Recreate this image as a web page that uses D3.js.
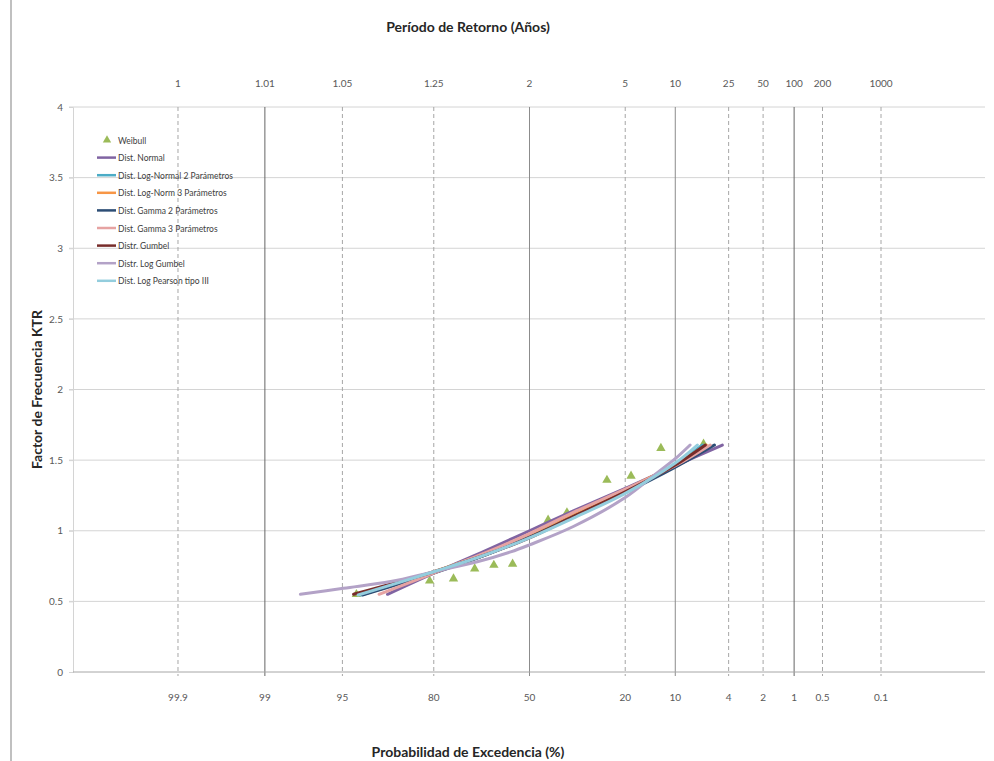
<!DOCTYPE html>
<html>
<head>
<meta charset="utf-8">
<script src="https://cdn.jsdelivr.net/npm/d3@7"></script>
<style>
  body { margin: 0; background: #fff; }
  text { font-family: Lato, "Open Sans", sans-serif; }
</style>
</head>
<body>
<script>
// Probability ticks (exceedance %) and matching return periods
var probTicks = [99.9, 99, 95, 80, 50, 20, 10, 4, 2, 1, 0.5, 0.1];
var probLabels = ["99.9", "99", "95", "80", "50", "20", "10", "4", "2", "1", "0.5", "0.1"];
var returnLabels = ["1", "1.01", "1.05", "1.25", "2", "5", "10", "25", "50", "100", "200", "1000"];
var solidTicks = [99, 50, 10, 1];

// Weibull plotting positions
var weibullP = [93.6, 81.0, 74.8, 68.5, 62.3, 55.9, 43.5, 37.1, 24.8, 18.6, 12.4, 6.3];
var weibullK = [0.55, 0.645, 0.66, 0.731, 0.757, 0.765, 1.076, 1.128, 1.359, 1.388, 1.584, 1.614];

// fitted distributions
var normalP = [89.4, 80, 65, 50, 35, 20, 10, 4.5];
var normalK = [0.55, 0.70, 0.86, 1.0, 1.14, 1.30, 1.46, 1.607];
var logNormal2P = [93.1, 80, 65, 50, 35, 20, 10, 6.4];
var logNormal2K = [0.545, 0.705, 0.83, 0.96, 1.11, 1.285, 1.47, 1.607];
var logNormal3P = [92.8, 80, 65, 50, 35, 20, 10, 6.0];
var logNormal3K = [0.55, 0.71, 0.84, 0.97, 1.12, 1.29, 1.47, 1.607];
var gamma2P = [92.9, 80, 65, 50, 35, 20, 10, 5.2];
var gamma2K = [0.545, 0.70, 0.83, 0.955, 1.10, 1.27, 1.45, 1.607];
var gamma3P = [90.7, 80, 65, 50, 35, 20, 10, 5.6];
var gamma3K = [0.55, 0.70, 0.845, 0.98, 1.13, 1.295, 1.46, 1.607];
var gumbelP = [93.9, 80, 65, 50, 35, 20, 10, 6.1];
var gumbelK = [0.55, 0.71, 0.83, 0.95, 1.10, 1.275, 1.465, 1.607];
var logGumbelP = [97.8, 94.9, 88.9, 80, 67.7, 56.6, 50, 35, 20, 13.1, 10, 7.9];
var logGumbelK = [0.55, 0.593, 0.64, 0.71, 0.78, 0.85, 0.9, 1.03, 1.235, 1.41, 1.51, 1.607];
var logPearsonP = [93.4, 80, 65, 50, 35, 20, 10, 7.0];
var logPearsonK = [0.545, 0.71, 0.83, 0.95, 1.09, 1.265, 1.48, 1.607];

var seriesNames = ["Dist. Normal", "Dist. Log-Normal 2 Parámetros", "Dist. Log-Norm 3 Parámetros",
  "Dist. Gamma 2 Parámetros", "Dist. Gamma 3 Parámetros", "Distr. Gumbel", "Distr. Log Gumbel",
  "Dist. Log Pearson tipo III"];
var seriesColors = ["#8064a2", "#4bacc6", "#f79646", "#2c4d75", "#e6a3a2", "#772c2a", "#b3a2c7", "#93cddd"];
var seriesP = [normalP, logNormal2P, logNormal3P, gamma2P, gamma3P, gumbelP, logGumbelP, logPearsonP];
var seriesK = [normalK, logNormal2K, logNormal3K, gamma2K, gamma3K, gumbelK, logGumbelK, logPearsonK];

var svgWidth = 994;
var svgHeight = 761;
var margin = { top: 107, right: 9, bottom: 89, left: 73 };
var chartWidth = svgWidth - margin.left - margin.right;
var chartHeight = svgHeight - margin.top - margin.bottom;

var svg = d3.select("body").append("svg")
  .attr("width", svgWidth)
  .attr("height", svgHeight);

// inverse normal cdf (Acklam)
function probit(p) {
  var a = [-39.69683028665376, 220.9460984245205, -275.9285104469687, 138.3577518672690, -30.66479806614716, 2.506628277459239];
  var b = [-54.47609879822406, 161.5858368580409, -155.6989798598866, 66.80131188771972, -13.28068155288572];
  var c = [-0.007784894002430293, -0.3223964580411365, -2.400758277161838, -2.549732539343734, 4.374664141464968, 2.938163982698783];
  var d = [0.007784695709041462, 0.3224671290700398, 2.445134137142996, 3.754408661907416];
  var q, r;
  if (p < 0.02425) {
    q = Math.sqrt(-2 * Math.log(p));
    return (((((c[0]*q+c[1])*q+c[2])*q+c[3])*q+c[4])*q+c[5]) / ((((d[0]*q+d[1])*q+d[2])*q+d[3])*q+1);
  } else if (p > 1 - 0.02425) {
    q = Math.sqrt(-2 * Math.log(1 - p));
    return -(((((c[0]*q+c[1])*q+c[2])*q+c[3])*q+c[4])*q+c[5]) / ((((d[0]*q+d[1])*q+d[2])*q+d[3])*q+1);
  }
  q = p - 0.5; r = q * q;
  return (((((a[0]*r+a[1])*r+a[2])*r+a[3])*r+a[4])*r+a[5])*q / (((((b[0]*r+b[1])*r+b[2])*r+b[3])*r+b[4])*r+1);
}

// normal probability scale: 99.9% at x=178, 0.1% at x=881
var zScale = d3.scaleLinear().domain([-3.0902, 3.0902]).range([178 - margin.left, 881 - margin.left]);
var xP = function(pct) { return zScale(probit(1 - pct / 100)); };
var yScale = d3.scaleLinear().domain([0, 4]).range([chartHeight, 0]);

// outer frame edge on the left
svg.append("line")
  .attr("x1", 11).attr("x2", 11).attr("y1", 0).attr("y2", svgHeight)
  .attr("stroke", "#c0c0c0").attr("stroke-width", 2);

var chartGroup = svg.append("g")
  .attr("transform", `translate(${margin.left}, ${margin.top})`);

// horizontal gridlines
chartGroup.append("g")
  .selectAll("line")
  .data(yScale.ticks(8).filter(function(d) { return d > 0; }))
  .join("line")
  .attr("x1", -4).attr("x2", chartWidth)
  .attr("y1", d => yScale(d)).attr("y2", d => yScale(d))
  .attr("stroke", "#d4d4d4");

// left axis
var leftAxis = d3.axisLeft(yScale).ticks(8).tickSize(4).tickPadding(6)
  .tickFormat(d3.format("~g"));
var yAxisG = chartGroup.append("g").call(leftAxis);
yAxisG.select(".domain").attr("stroke", "#d4d4d4");
yAxisG.selectAll(".tick line").attr("stroke", "#d4d4d4");
yAxisG.selectAll("text").attr("fill", "#595959").style("font-size", "10px");

// vertical probability gridlines
chartGroup.append("g")
  .selectAll("line")
  .data(probTicks)
  .join("line")
  .attr("x1", d => xP(d)).attr("x2", d => xP(d))
  .attr("y1", 0).attr("y2", chartHeight + 4)
  .attr("stroke", d => solidTicks.indexOf(d) >= 0 ? (d === 50 || d === 10 ? "#8c8c8c" : "#666") : "#a6a6a6")
  .attr("stroke-width", 1)
  .attr("stroke-dasharray", d => solidTicks.indexOf(d) >= 0 ? null : "4,3");

// bottom axis line
chartGroup.append("line")
  .attr("x1", 0).attr("x2", chartWidth)
  .attr("y1", chartHeight).attr("y2", chartHeight)
  .attr("stroke", "#a6a6a6");

// bottom tick labels (exceedance probability)
chartGroup.append("g")
  .selectAll("text")
  .data(probTicks)
  .join("text")
  .attr("x", (d, i) => xP(d))
  .attr("y", chartHeight + 29)
  .attr("text-anchor", "middle")
  .attr("fill", "#595959")
  .style("font-size", "10px")
  .text((d, i) => probLabels[i]);

// top tick labels (return period)
chartGroup.append("g")
  .selectAll("text")
  .data(probTicks)
  .join("text")
  .attr("x", d => xP(d))
  .attr("y", -20)
  .attr("text-anchor", "middle")
  .attr("fill", "#595959")
  .style("font-size", "10px")
  .text((d, i) => returnLabels[i]);

// Weibull points
chartGroup.append("g")
  .selectAll("path")
  .data(weibullP)
  .join("path")
  .attr("d", d3.symbol(d3.symbolTriangle, 38))
  .attr("transform", (d, i) => `translate(${xP(d)}, ${yScale(weibullK[i])})`)
  .attr("fill", "#9bbb59");

// distribution curves
var line = d3.line()
  .x(d => xP(d[0]))
  .y(d => yScale(d[1]))
  .curve(d3.curveCatmullRom);

for (var i = 0; i < seriesP.length; i++) {
  var pts = seriesP[i].map(function(p, j) { return [p, seriesK[i][j]]; });
  chartGroup.append("path")
    .attr("d", line(pts))
    .attr("fill", "none")
    .attr("stroke", seriesColors[i])
    .attr("stroke-width", 3)
    .attr("stroke-linecap", "round");
}

// legend
var legend = svg.append("g").attr("transform", "translate(97, 140)");
legend.append("path")
  .attr("d", d3.symbol(d3.symbolTriangle, 30))
  .attr("transform", "translate(10, 0)")
  .attr("fill", "#9bbb59");
legend.append("text")
  .attr("x", 21).attr("y", 3.5)
  .attr("fill", "#404040").style("font-size", "8.5px")
  .text("Weibull");
var items = legend.selectAll("g.item")
  .data(seriesNames)
  .join("g")
  .attr("class", "item")
  .attr("transform", (d, i) => `translate(0, ${(i + 1) * 17.6})`);
items.append("line")
  .attr("x1", 0).attr("x2", 19).attr("y1", 0).attr("y2", 0)
  .attr("stroke", (d, i) => seriesColors[i])
  .attr("stroke-width", 2.5);
items.append("text")
  .attr("x", 21).attr("y", 3.5)
  .attr("fill", "#404040").style("font-size", "8.5px")
  .text(d => d);

// titles
svg.append("text")
  .attr("x", 468).attr("y", 32)
  .attr("text-anchor", "middle")
  .attr("fill", "#262626")
  .style("font-size", "14px").style("font-weight", "bold")
  .text("Período de Retorno (Años)");

svg.append("text")
  .attr("x", 468).attr("y", 757)
  .attr("text-anchor", "middle")
  .attr("fill", "#262626")
  .style("font-size", "14px").style("font-weight", "bold")
  .text("Probabilidad de Excedencia (%)");

svg.append("text")
  .attr("transform", "rotate(-90)")
  .attr("x", -(margin.top + chartHeight / 2))
  .attr("y", 42)
  .attr("text-anchor", "middle")
  .attr("fill", "#262626")
  .style("font-size", "14px").style("font-weight", "bold")
  .text("Factor de Frecuencia KTR");
</script>
</body>
</html>
